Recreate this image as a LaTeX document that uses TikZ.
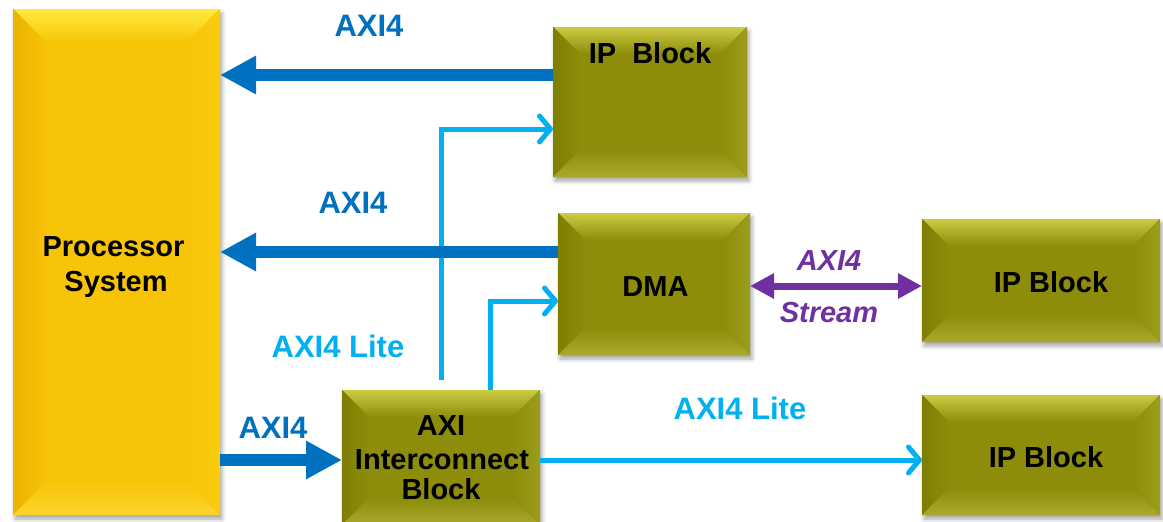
\documentclass[tikz,border=0pt]{standalone}
\usepackage{fontspec}
\setmainfont{Liberation Sans}
\usetikzlibrary{arrows.meta,calc,shadows.blur}
\definecolor{dblue}{HTML}{0070C0}
\definecolor{lblue}{HTML}{00B0F0}
\definecolor{purp}{HTML}{7030A0}
\definecolor{ybase}{HTML}{F7C408}
\definecolor{ytop}{HTML}{FFEA3E}
\definecolor{yleft}{HTML}{EBB300}
\definecolor{yright}{HTML}{FBCB0E}
\definecolor{ybot}{HTML}{FDD52C}
\definecolor{obase}{HTML}{8D8D0B}
\definecolor{otop}{HTML}{CCCB44}
\definecolor{oleft}{HTML}{7E7E03}
\definecolor{oright}{HTML}{9D9D1D}
\definecolor{obot}{HTML}{AAA92E}
\tikzset{
 bevelbox/.style n args={6}{inner sep=0pt, outer sep=0pt, fill=#1,
   blur shadow={shadow xshift=2pt,shadow yshift=-4pt,shadow blur radius=4pt,shadow opacity=35},
   path picture={
     \path (path picture bounding box.north west) coordinate (bNW)
           (path picture bounding box.north east) coordinate (bNE)
           (path picture bounding box.south west) coordinate (bSW)
           (path picture bounding box.south east) coordinate (bSE);
     \path ([xshift=#6,yshift=-#6]bNW) coordinate (iNW)
           ([xshift=-#6,yshift=-#6]bNE) coordinate (iNE)
           ([xshift=#6,yshift=#6]bSW) coordinate (iSW)
           ([xshift=-#6,yshift=#6]bSE) coordinate (iSE);
     \fill[top color=#2, bottom color=#1] (bNW)--(bNE)--(iNE)--(iNW)--cycle;
     \fill[left color=#3, right color=#1] (bNW)--(iNW)--(iSW)--(bSW)--cycle;
     \fill[left color=#1, right color=#4] (bNE)--(iNE)--(iSE)--(bSE)--cycle;
     \fill[top color=#1, bottom color=#5] (bSW)--(iSW)--(iSE)--(bSE)--cycle;
   }},
 ybox/.style={bevelbox={ybase}{ytop}{yleft}{yright}{ybot}{34pt}},
 obox/.style={bevelbox={obase}{otop}{oleft}{oright}{obot}{27pt}},
 blocktxt/.style={anchor=base, inner sep=0pt, text=black, font=\bfseries\fontsize{29}{34}\selectfont},
 lbl/.style={anchor=base, inner sep=0pt, font=\bfseries\fontsize{31}{36}\selectfont},
 stxt/.style={anchor=base, inner sep=0pt, text=purp, font=\bfseries\itshape\fontsize{29}{34}\selectfont},
 bigarrow/.style={draw=dblue, line width=12pt, -{Triangle[length=36pt,width=36pt]}},
 lite/.style={draw=lblue, line width=5pt, -{Straight Barb[length=11pt,width=26pt,round]}},
 stream/.style={draw=purp, line width=7pt, {Triangle[length=24pt,width=24pt]}-{Triangle[length=24pt,width=24pt]}}
}
\begin{document}
\begin{tikzpicture}[x=1pt,y=-1pt]
\useasboundingbox (0,0) rectangle (1163,522);
% blocks
\node[ybox, minimum width=207pt, minimum height=506pt] (proc) at (116.5,262) {};
\node[obox, minimum width=194pt, minimum height=150pt] (ip1) at (650,102) {};
\node[obox, minimum width=192pt, minimum height=142pt] (dma) at (654,284) {};
\node[obox, minimum width=238pt, minimum height=123pt] (ip2) at (1041,280.5) {};
\node[obox, minimum width=238pt, minimum height=120pt] (ip3) at (1041,455) {};
\node[obox, minimum width=198pt, minimum height=135pt] (ic) at (441,457.5) {};
% block texts
\node[blocktxt] (tp1) at (113.5,256) {Processor};
\node[blocktxt] (tp2) at (116,291) {System};
\node[blocktxt] (tip1) at (650,63) {IP\ \ Block};
\node[blocktxt] (tdma) at (655.5,296) {DMA};
\node[blocktxt] (tip2) at (1051,292) {IP Block};
\node[blocktxt] (tip3) at (1046,467) {IP Block};
\node[blocktxt] (tic1) at (441,435) {AXI};
\node[blocktxt] (tic2) at (442,469) {Interconnect};
\node[blocktxt] (tic3) at (441,499) {Block};
% helper coordinates
\coordinate (ylo) at (0,460);
\coordinate (ys) at (0,286);
% light blue connectors
\draw[lite] ($(ic.north)+(0,-10)$) |- ($(ip1.north west)+(0,102)$);
\draw[lite] ($(ic.north west)+(148,0)$) |- ($(dma.north west)+(0,88)$);
\draw[lite] (ic.east |- ylo) -- (ip3.west |- ylo);
% dark blue connectors
\coordinate (a1) at ($(ip1.north west)+(0,48)$);
\coordinate (a2) at ($(dma.north west)+(0,39)$);
\draw[bigarrow] (a1) -- (a1 -| proc.east);
\draw[bigarrow] (a2) -- (a2 -| proc.east);
\draw[bigarrow] (proc.east |- ylo) -- (ic.west |- ylo);
% stream
\draw[stream] (dma.east |- ys) -- (ip2.west |- ys);
% labels
\node[lbl, text=dblue] (l1) at (369,36) {AXI4};
\node[lbl, text=dblue] (l2) at (353,213) {AXI4};
\node[lbl, text=lblue] (l3) at (338,357) {AXI4 Lite};
\node[lbl, text=dblue] (l4) at (273,438) {AXI4};
\node[lbl, text=lblue] (l5) at (740,419) {AXI4 Lite};
\node[stxt] (l6) at (829,270) {AXI4};
\node[stxt] (l7) at (829,322) {Stream};
\end{tikzpicture}
\end{document}
